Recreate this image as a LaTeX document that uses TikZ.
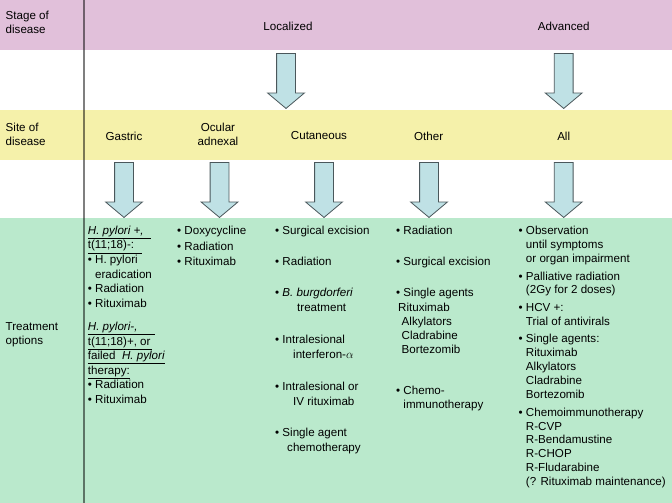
\documentclass[tikz,border=0pt]{standalone}
\usepackage{fontspec}
\setmainfont{Liberation Sans}
\usepackage{tikz}
\usetikzlibrary{shapes.arrows}
\definecolor{StagePink}{HTML}{E1C0DA}
\definecolor{SiteYellow}{HTML}{F5F1AA}
\definecolor{TreatGreen}{HTML}{BAE9CC}
\definecolor{ArrowFill}{HTML}{BFE1E5}
\definecolor{ArrowEdge}{HTML}{4A575B}
\newcommand{\tbul}{\textbullet\ }
\newcommand{\ulbox}[2]{\underline{\makebox[#1][l]{#2}}}
\tikzset{
  rowlabel/.style={anchor=north west,inner sep=0pt,align=left,
    font=\fontsize{11.6}{14}\selectfont},
  headlabel/.style={anchor=center,inner sep=0pt,align=center,
    font=\fontsize{11.6}{14}\selectfont},
  listcol/.style={anchor=north west,inner sep=0pt,align=left,
    font=\fontsize{11.6}{#1}\selectfont},
  listcol/.default=14,
  blockarrow/.style={single arrow,draw=ArrowEdge,fill=ArrowFill,line width=0.8pt,
    rotate=-90,minimum height=55pt,inner xsep=0pt,inner ysep=9pt,
    single arrow head extend=9pt,single arrow tip angle=100},
  divider/.style={draw=black,opacity=0.5,line width=1.2pt}
}
\begin{document}
\begin{tikzpicture}[x=1pt,y=1pt]
  \useasboundingbox (0,0) rectangle (672,-503);
  \fill[StagePink] (0,0) rectangle (672,-50);
  \fill[SiteYellow] (0,-110) rectangle (672,-160);
  \fill[TreatGreen] (0,-218) rectangle (672,-503);
  \draw[divider] (84,0) -- (84,-503);

  \node[rowlabel] (stagelbl) at (5.5,-11.4) {Stage of\\disease};
  \node[rowlabel] (sitelbl) at (5.5,-123) {Site of\\disease};
  \node[rowlabel] (treatlbl) at (5.5,-322.4) {Treatment\\options};

  \node[headlabel] (localized) at (288,-26.7) {Localized};
  \node[headlabel] (advanced) at (563.7,-26.7) {Advanced};
  \node[blockarrow] (arrlocal) at (286,-77) {};
  \node[blockarrow] (arradv) at (563.7,-77) {};

  \node[headlabel] (gastric) at (124,-136) {Gastric};
  \node[headlabel] (ocular) at (218,-134.6) {Ocular\\adnexal};
  \node[headlabel] (cutaneous) at (319,-136) {Cutaneous};
  \node[headlabel] (other) at (428.7,-136) {Other};
  \node[headlabel] (all) at (563.7,-136) {All};
  \node[blockarrow] (arrgastric) at (124,-186) {};
  \node[blockarrow] (arrocular) at (219.5,-186) {};
  \node[blockarrow] (arrcutan) at (324,-186) {};
  \node[blockarrow] (arrother) at (429,-186) {};
  \node[blockarrow] (arrall) at (563.7,-186) {};

  \node[listcol=14.6] (gastrictx) at (87.7,-225.7) {%
    \ulbox{63pt}{\textit{H. pylori +,}}\\
    \ulbox{54.5pt}{t(11;18)-:}\\
    \tbul H. pylori\\
    \phantom{\tbul}eradication\\
    \tbul Radiation\\
    \tbul Rituximab\\[8.5pt]
    \ulbox{67pt}{\textit{H. pylori-,}}\\
    \ulbox{64pt}{t(11;18)+, or}\\
    \underline{failed\ \ \textit{H. pylori}}\\
    \underline{therapy:}\\
    \tbul Radiation\\
    \tbul Rituximab};
  \node[listcol=15.8] (oculartx) at (177,-225.7) {%
    \tbul Doxycycline\\
    \tbul Radiation\\
    \tbul Rituximab};
  \node[listcol=15] (cutantx) at (275,-225.7) {%
    \tbul Surgical excision\\[16pt]
    \tbul Radiation\\[16.5pt]
    \tbul \textit{B. burgdorferi}\\
    \hspace*{22pt}treatment\\[17pt]
    \tbul Intralesional\\
    \hspace*{18pt}interferon-$\alpha$\\[16.5pt]
    \tbul Intralesional or\\
    \hspace*{18pt}IV rituximab\\[16.5pt]
    \tbul Single agent\\
    \hspace*{12pt}chemotherapy};
  \node[listcol=14] (othertx) at (396,-225.7) {%
    \tbul Radiation\\[17pt]
    \tbul Surgical excision\\[17pt]
    \tbul Single agents\\[1pt]
    \hspace*{2pt}Rituximab\\
    \hspace*{5.5pt}Alkylators\\
    \hspace*{5.5pt}Cladrabine\\
    \hspace*{5.5pt}Bortezomib\\[27.5pt]
    \tbul Chemo-\\
    \phantom{\tbul}immunotherapy};
  \node[listcol=13.9] (alltx) at (518.5,-225.7) {%
    \tbul Observation\\
    \phantom{\tbul}until symptoms\\
    \phantom{\tbul}or organ impairment\\[4pt]
    \tbul Palliative radiation\\
    \phantom{\tbul}(2Gy for 2 doses)\\[4pt]
    \tbul HCV +:\\
    \phantom{\tbul}Trial of antivirals\\[3pt]
    \tbul Single agents:\\
    \phantom{\tbul}Rituximab\\
    \phantom{\tbul}Alkylators\\
    \phantom{\tbul}Cladrabine\\
    \phantom{\tbul}Bortezomib\\[4pt]
    \tbul Chemoimmunotherapy\\
    \phantom{\tbul}R-CVP\\
    \phantom{\tbul}R-Bendamustine\\
    \phantom{\tbul}R-CHOP\\
    \phantom{\tbul}R-Fludarabine\\
    \phantom{\tbul}(? Rituximab maintenance)};
\end{tikzpicture}
\end{document}
